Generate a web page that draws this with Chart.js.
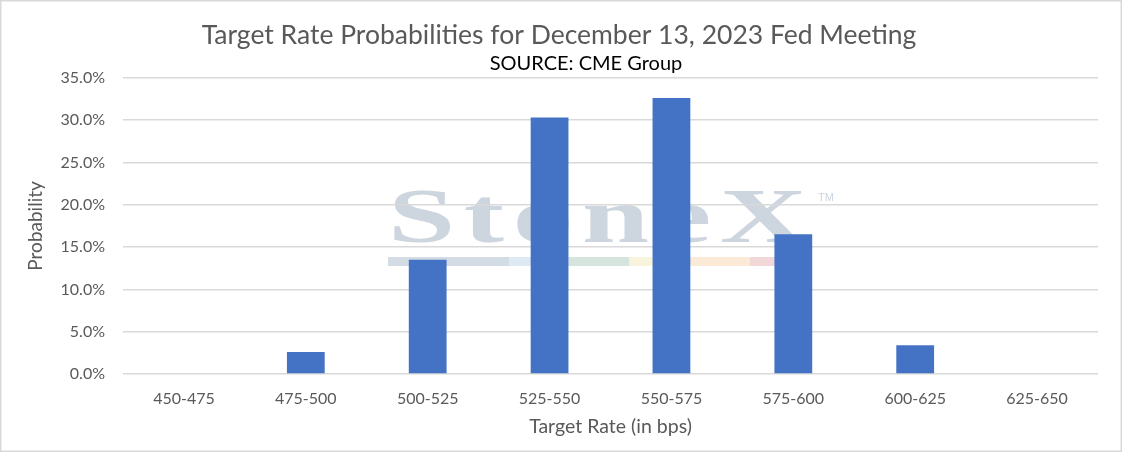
<!DOCTYPE html>
<html>
<head>
<meta charset="utf-8">
<script src="https://cdn.jsdelivr.net/npm/chart.js@4/dist/chart.umd.min.js"></script>
<style>
  html, body { margin: 0; padding: 0; background: #fff; }
  #wrap { width: 1122px; height: 452px; }
</style>
</head>
<body>
<div id="wrap"><canvas id="rateChart" width="1122" height="452"></canvas></div>
<script>
// target rate buckets (bps) and CME probabilities (%)
const rateBuckets = ['450-475', '475-500', '500-525', '525-550', '550-575', '575-600', '600-625', '625-650'];
const probabilities = [0, 2.6, 13.5, 30.3, 32.6, 16.5, 3.4, 0];
const yTicks = [0, 5, 10, 15, 20, 25, 30, 35];

const chartTitle = 'Target Rate Probabilities for December 13, 2023 Fed Meeting';
const sourceNote = 'SOURCE: CME Group';
const xTitle = 'Target Rate (in bps)';
const yTitle = 'Probability';

const fontFamily = 'Lato, "Open Sans", sans-serif';
const gray = '#595959';

// StoneX watermark behind the grid, plus white background
const watermark = {
    id: 'watermark',
    beforeDraw(chart) {
        const ctx = chart.ctx;
        ctx.save();
        ctx.fillStyle = '#ffffff';
        ctx.fillRect(0, 0, chart.width, chart.height);

        ctx.fillStyle = '#cdd5de';
        ctx.font = 'bold 78px "Liberation Serif", "DejaVu Serif", serif';
        ctx.textBaseline = 'alphabetic';
        const word = 'StoneX';
        const stretch = 1.55;
        const w = ctx.measureText(word).width * stretch;
        const spacing = (419 - w) / (word.length - 1);
        let x = 388;
        for (const ch of word) {
            ctx.save();
            ctx.translate(x, 242);
            ctx.scale(stretch, 1);
            ctx.fillText(ch, 0, 0);
            ctx.restore();
            x += ctx.measureText(ch).width * stretch + spacing;
        }
        ctx.font = '11px "Liberation Sans", sans-serif';
        ctx.fillText('TM', 818, 201);

        const stripe = [
            [388, 509, '#d3dbe5'],
            [509, 569, '#deeaf3'],
            [569, 629, '#d5e4dc'],
            [629, 690, '#f8f4dc'],
            [690, 750, '#fbebd6'],
            [750, 782, '#f2d7d9']
        ];
        for (const s of stripe) {
            ctx.fillStyle = s[2];
            ctx.fillRect(s[0], 257, s[1] - s[0], 9);
        }
        ctx.restore();
    },
    afterDraw(chart) {
        const ctx = chart.ctx;
        ctx.save();
        // source line under the title
        ctx.fillStyle = '#000000';
        ctx.font = '20px ' + fontFamily;
        ctx.textAlign = 'center';
        ctx.textBaseline = 'middle';
        ctx.fillText(sourceNote, 586, 64);
        // chart border
        ctx.strokeStyle = '#d9d9d9';
        ctx.lineWidth = 1.5;
        ctx.strokeRect(0.75, 0.75, chart.width - 1.5, chart.height - 1.5);
        ctx.restore();
    }
};

const dataChart = {
    labels: rateBuckets,
    datasets: [{
        label: yTitle,
        data: probabilities,
        backgroundColor: '#4472c4',
        barPercentage: 0.31,
        categoryPercentage: 1
    }]
};

const configChart = {
    type: 'bar',
    data: dataChart,
    options: {
        responsive: false,
        animation: false,
        devicePixelRatio: 1,
        layout: { padding: { left: 20, right: 24, top: 0, bottom: 0 } },
        plugins: {
            legend: { display: false },
            tooltip: { enabled: false },
            title: {
                display: true,
                text: chartTitle,
                color: gray,
                font: { family: fontFamily, size: 26.5, weight: 'normal' },
                padding: { top: 20, bottom: 26 }
            }
        },
        scales: {
            x: {
                grid: { display: false, drawTicks: false },
                border: { display: false },
                ticks: {
                    color: gray,
                    font: { family: fontFamily, size: 16 },
                    padding: 15,
                    maxRotation: 0
                },
                title: {
                    display: true,
                    text: xTitle,
                    color: gray,
                    font: { family: fontFamily, size: 19.5 },
                    padding: { top: 14, bottom: 14 }
                },
                afterFit(scale) { scale.height = 78; }
            },
            y: {
                min: 0,
                max: 35,
                afterBuildTicks(scale) {
                    scale.ticks = yTicks.map(v => ({ value: v }));
                },
                grid: { color: '#d9d9d9', lineWidth: 1.5, drawTicks: false },
                border: { display: false },
                ticks: {
                    color: gray,
                    font: { family: fontFamily, size: 16 },
                    padding: 18,
                    callback: v => v.toFixed(1) + '%'
                },
                title: {
                    display: true,
                    text: yTitle,
                    color: gray,
                    font: { family: fontFamily, size: 19 },
                    padding: { top: 4, bottom: 4 }
                },
                afterFit(scale) { scale.width = 103; }
            }
        }
    },
    plugins: [watermark]
};

let chart = new Chart(document.getElementById('rateChart').getContext('2d'), configChart);
</script>
</body>
</html>
